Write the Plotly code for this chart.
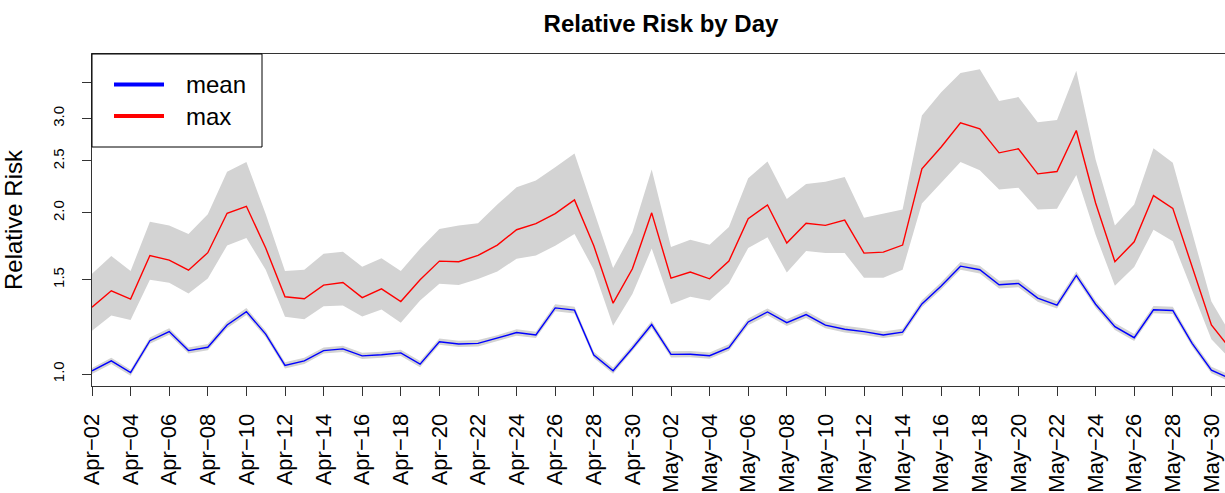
import pandas as pd
import plotly.graph_objects as go

# ---- data ----
start_date = "2020-04-02"
n_days = 60
dates = pd.date_range(start_date, periods=n_days, freq="D")

mean_rr = [1.014, 1.058, 1.006, 1.154, 1.200, 1.106, 1.122, 1.235, 1.308, 1.187,
           1.038, 1.058, 1.106, 1.114, 1.081, 1.086, 1.095, 1.043, 1.149, 1.138,
           1.141, 1.166, 1.195, 1.183, 1.329, 1.316, 1.085, 1.014, 1.117, 1.237,
           1.088, 1.089, 1.082, 1.120, 1.251, 1.306, 1.247, 1.291, 1.234, 1.212,
           1.200, 1.183, 1.197, 1.352, 1.460, 1.590, 1.566, 1.468, 1.476, 1.386,
           1.345, 1.528, 1.350, 1.226, 1.169, 1.318, 1.314, 1.141, 1.017, 0.979]
mean_lower = [1.000, 1.044, 0.993, 1.139, 1.184, 1.092, 1.107, 1.218, 1.289, 1.171,
              1.024, 1.044, 1.092, 1.099, 1.067, 1.072, 1.081, 1.029, 1.134, 1.123,
              1.126, 1.151, 1.179, 1.167, 1.310, 1.297, 1.071, 1.001, 1.102, 1.219,
              1.074, 1.075, 1.068, 1.105, 1.233, 1.287, 1.229, 1.272, 1.217, 1.195,
              1.183, 1.167, 1.180, 1.332, 1.438, 1.565, 1.541, 1.445, 1.453, 1.365,
              1.325, 1.504, 1.330, 1.208, 1.152, 1.298, 1.294, 1.125, 1.003, 0.966]
mean_upper = [1.026, 1.072, 1.019, 1.170, 1.217, 1.121, 1.138, 1.253, 1.328, 1.204,
              1.052, 1.072, 1.121, 1.129, 1.096, 1.101, 1.110, 1.057, 1.165, 1.154,
              1.157, 1.182, 1.212, 1.199, 1.350, 1.336, 1.100, 1.028, 1.133, 1.256,
              1.103, 1.104, 1.097, 1.136, 1.270, 1.326, 1.266, 1.311, 1.253, 1.230,
              1.218, 1.200, 1.215, 1.373, 1.484, 1.618, 1.593, 1.493, 1.501, 1.409,
              1.367, 1.554, 1.372, 1.245, 1.188, 1.340, 1.336, 1.159, 1.032, 0.994]

max_rr = [1.333, 1.430, 1.380, 1.665, 1.632, 1.563, 1.685, 1.996, 2.057, 1.719,
          1.394, 1.382, 1.466, 1.482, 1.389, 1.442, 1.366, 1.500, 1.625, 1.621,
          1.665, 1.741, 1.860, 1.909, 1.993, 2.114, 1.736, 1.356, 1.572, 2.000,
          1.510, 1.550, 1.506, 1.625, 1.950, 2.069, 1.756, 1.912, 1.895, 1.939,
          1.682, 1.689, 1.741, 2.417, 2.655, 2.945, 2.871, 2.589, 2.634, 2.365,
          2.389, 2.850, 2.087, 1.621, 1.766, 2.154, 2.039, 1.588, 1.235, 1.112]
max_lower = [1.204, 1.286, 1.262, 1.500, 1.480, 1.413, 1.508, 1.738, 1.795, 1.566,
             1.279, 1.266, 1.339, 1.343, 1.280, 1.320, 1.246, 1.372, 1.474, 1.466,
             1.504, 1.554, 1.642, 1.665, 1.736, 1.826, 1.566, 1.231, 1.410, 1.716,
             1.350, 1.394, 1.372, 1.478, 1.719, 1.800, 1.547, 1.697, 1.682, 1.682,
             1.513, 1.513, 1.566, 2.081, 2.275, 2.490, 2.402, 2.210, 2.229, 2.028,
             2.036, 2.354, 1.820, 1.461, 1.584, 1.860, 1.769, 1.436, 1.161, 1.064]
max_upper = [1.539, 1.661, 1.557, 1.925, 1.893, 1.826, 1.987, 2.386, 2.490, 1.990,
             1.557, 1.566, 1.677, 1.692, 1.586, 1.645, 1.557, 1.714, 1.866, 1.895,
             1.912, 2.072, 2.232, 2.298, 2.433, 2.581, 2.019, 1.577, 1.839, 2.409,
             1.726, 1.782, 1.744, 1.882, 2.321, 2.494, 2.123, 2.265, 2.285, 2.334,
             1.959, 1.993, 2.028, 3.040, 3.360, 3.650, 3.707, 3.234, 3.290, 2.954,
             2.980, 3.686, 2.516, 1.893, 2.072, 2.641, 2.480, 1.839, 1.366, 1.187]

y_tick_vals = [1.0, 1.5, 2.0, 2.5, 3.0, 3.5]
y_tick_text = ["1.0", "1.5", "2.0", "2.5", "3.0", ""]
x_tick_dates = dates[::2]
x_tick_text = [d.strftime("%b") + "\u2212" + d.strftime("%d") for d in x_tick_dates]

legend_labels = ["mean", "max"]
legend_colors = ["#0000FF", "#FF0000"]

# ---- figure ----
FONT = "Liberation Sans, Arial, Helvetica, sans-serif"
BAND = "#D3D3D3"
W, H = 1225, 493
L, R, T, B = 92, 0, 54, 107

xs = list(dates)
fig = go.Figure()
fig.add_trace(go.Scatter(x=xs + xs[::-1], y=max_upper + max_lower[::-1],
                         fill="toself", fillcolor=BAND, line=dict(width=0),
                         mode="lines", hoverinfo="skip", showlegend=False))
fig.add_trace(go.Scatter(x=xs + xs[::-1], y=mean_upper + mean_lower[::-1],
                         fill="toself", fillcolor=BAND, line=dict(width=0),
                         mode="lines", hoverinfo="skip", showlegend=False))
fig.add_trace(go.Scatter(x=xs, y=max_rr, mode="lines", name="max",
                         line=dict(color=legend_colors[1], width=1.4), showlegend=False))
fig.add_trace(go.Scatter(x=xs, y=mean_rr, mode="lines", name="mean",
                         line=dict(color=legend_colors[0], width=1.4), showlegend=False))

# x range: starts at first day, the right edge of the R plot lies just beyond the window
px_per_day = 19.3
x_end = dates[0] + pd.Timedelta(days=(W - L - R) / px_per_day)

fig.update_layout(
    width=W, height=H,
    margin=dict(l=L, r=R, t=T, b=B, autoexpand=False),
    paper_bgcolor="white", plot_bgcolor="white",
    font=dict(family=FONT, color="black"),
    title=dict(text="<b>Relative Risk by Day</b>", xref="container", x=661 / W,
               xanchor="center", yref="container", y=1 - 24 / H, yanchor="middle",
               font=dict(size=24, family=FONT, color="black")),
    xaxis=dict(type="date", range=[dates[0], x_end], tickmode="array",
               tickvals=list(x_tick_dates), ticktext=x_tick_text, tickangle=-90,
               ticks="outside", ticklen=9, tickwidth=1, tickcolor="#333",
               showline=True, linecolor="#333", linewidth=1, mirror=True,
               showgrid=False, zeroline=False, tickfont=dict(size=22, family=FONT),
               automargin=False, ticklabelstandoff=9),
    yaxis=dict(type="log", range=[-0.0224, 0.5977], tickmode="array",
               tickvals=y_tick_vals, ticktext=y_tick_text, tickangle=-90,
               ticks="outside", ticklen=9, tickwidth=1, tickcolor="#333",
               showline=True, linecolor="#333", linewidth=1, mirror=False,
               showgrid=False, zeroline=False, tickfont=dict(size=15, family=FONT),
               automargin=False, ticklabelstandoff=12,
               title=dict(text="Relative Risk", font=dict(size=24, family=FONT),
                          standoff=27)),
)

# legend box drawn in paper coordinates (R-style legend)
pw, ph = W - L - R, H - T - B
def px_x(p):
    return (p - L) / pw
def px_y(p):
    return (H - B - p) / ph

fig.add_shape(type="rect", xref="paper", yref="paper",
              x0=px_x(92), x1=px_x(262), y0=px_y(147), y1=px_y(54),
              line=dict(color="black", width=1), fillcolor="white", layer="above")
for lab, col, yy in zip(legend_labels, legend_colors, [84.5, 116]):
    fig.add_shape(type="line", xref="paper", yref="paper",
                  x0=px_x(114), x1=px_x(164), y0=px_y(yy), y1=px_y(yy),
                  line=dict(color=col, width=4), layer="above")
    fig.add_annotation(text=lab, xref="paper", yref="paper", x=px_x(184), y=px_y(yy),
                       xanchor="left", yanchor="middle", showarrow=False,
                       font=dict(size=24, family=FONT, color="black"))

fig.write_html("out.html", config={"displayModeBar": False},
               post_script="document.body.style.margin='0';"
                           "document.body.style.overflow='hidden';")
